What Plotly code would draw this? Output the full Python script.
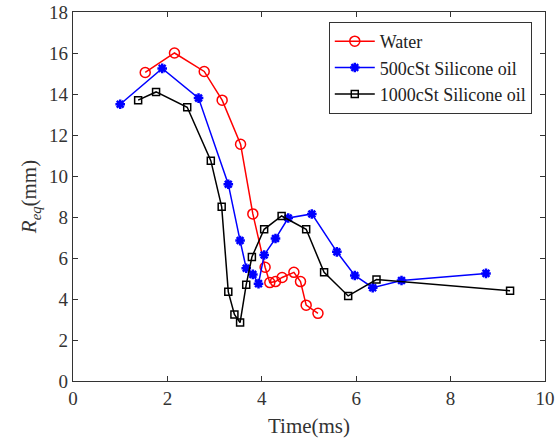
import plotly.graph_objects as go

water_t = [1.53, 2.15, 2.78, 3.16, 3.55, 3.81, 4.07, 4.17, 4.29, 4.43, 4.68, 4.82, 4.94, 5.19]
water_r = [15.05, 16.0, 15.1, 13.7, 11.55, 8.15, 5.55, 4.8, 4.85, 5.05, 5.3, 4.85, 3.7, 3.3]

s500_t = [1.0, 1.89, 2.66, 3.29, 3.54, 3.67, 3.81, 3.93, 4.05, 4.29, 4.56, 5.06, 5.59, 5.97, 6.35, 6.96, 8.75]
s500_r = [13.5, 15.25, 13.8, 9.6, 6.85, 5.5, 5.2, 4.75, 6.15, 6.95, 7.95, 8.15, 6.3, 5.15, 4.55, 4.9, 5.25]

s1000_t = [1.38, 1.76, 2.42, 2.92, 3.15, 3.29, 3.42, 3.54, 3.67, 3.79, 4.05, 4.42, 4.94, 5.32, 5.83, 6.43, 9.26]
s1000_r = [13.7, 14.1, 13.35, 10.75, 8.5, 4.35, 3.25, 2.85, 4.7, 6.05, 7.4, 8.05, 7.4, 5.3, 4.15, 4.95, 4.4]

fig = go.Figure()
fig.add_trace(go.Scatter(x=water_t, y=water_r, mode="lines+markers", name="Water",
                         line=dict(color="#ff0000", width=1.5),
                         marker=dict(symbol="circle-open", size=10, color="#ff0000", line=dict(width=1.5))))
fig.add_trace(go.Scatter(x=s500_t, y=s500_r, mode="lines+markers", name="500cSt Silicone oil",
                         line=dict(color="#0000ff", width=1.5),
                         marker=dict(symbol="asterisk-open", size=8, color="#0000ff", line=dict(width=2.5, color="#0000ff"))))
fig.add_trace(go.Scatter(x=s1000_t, y=s1000_r, mode="lines+markers", name="1000cSt Silicone oil",
                         line=dict(color="#000000", width=1.5),
                         marker=dict(symbol="square-open", size=7, color="#000000", line=dict(width=1.5))))

axis_common = dict(showline=True, linecolor="#333333", linewidth=1.2, mirror="ticks",
                   ticks="inside", ticklen=5, tickcolor="#333333", showgrid=False, zeroline=False,
                   automargin=False, ticklabeloverflow="allow",
                   tickfont=dict(family="Liberation Serif", size=19, color="#333333"))

fig.update_layout(
    width=557, height=439,
    margin=dict(l=73, r=12, t=12, b=58),
    plot_bgcolor="white", paper_bgcolor="white",
    font=dict(family="Liberation Serif", color="#333333"),
    xaxis=dict(range=[0, 10], dtick=2,
               title=dict(text="Time(ms)", font=dict(family="Liberation Serif", size=21, color="#333333"), standoff=10),
               **axis_common),
    yaxis=dict(range=[0, 18], dtick=2,
               title=dict(text="<i>R</i><sub><i>eq</i></sub>(mm)", font=dict(family="Liberation Serif", size=21, color="#333333"), standoff=6),
               **axis_common),
    legend=dict(x=0.972, y=0.973, xanchor="right", yanchor="top",
                bgcolor="white", bordercolor="#333333", borderwidth=1,
                font=dict(family="Liberation Serif", size=18, color="#222222"),
                tracegroupgap=0, itemwidth=40),
    showlegend=True,
)

fig.write_html("out.html", config={"displayModeBar": False},
               post_script="document.body.style.margin='0px';")
